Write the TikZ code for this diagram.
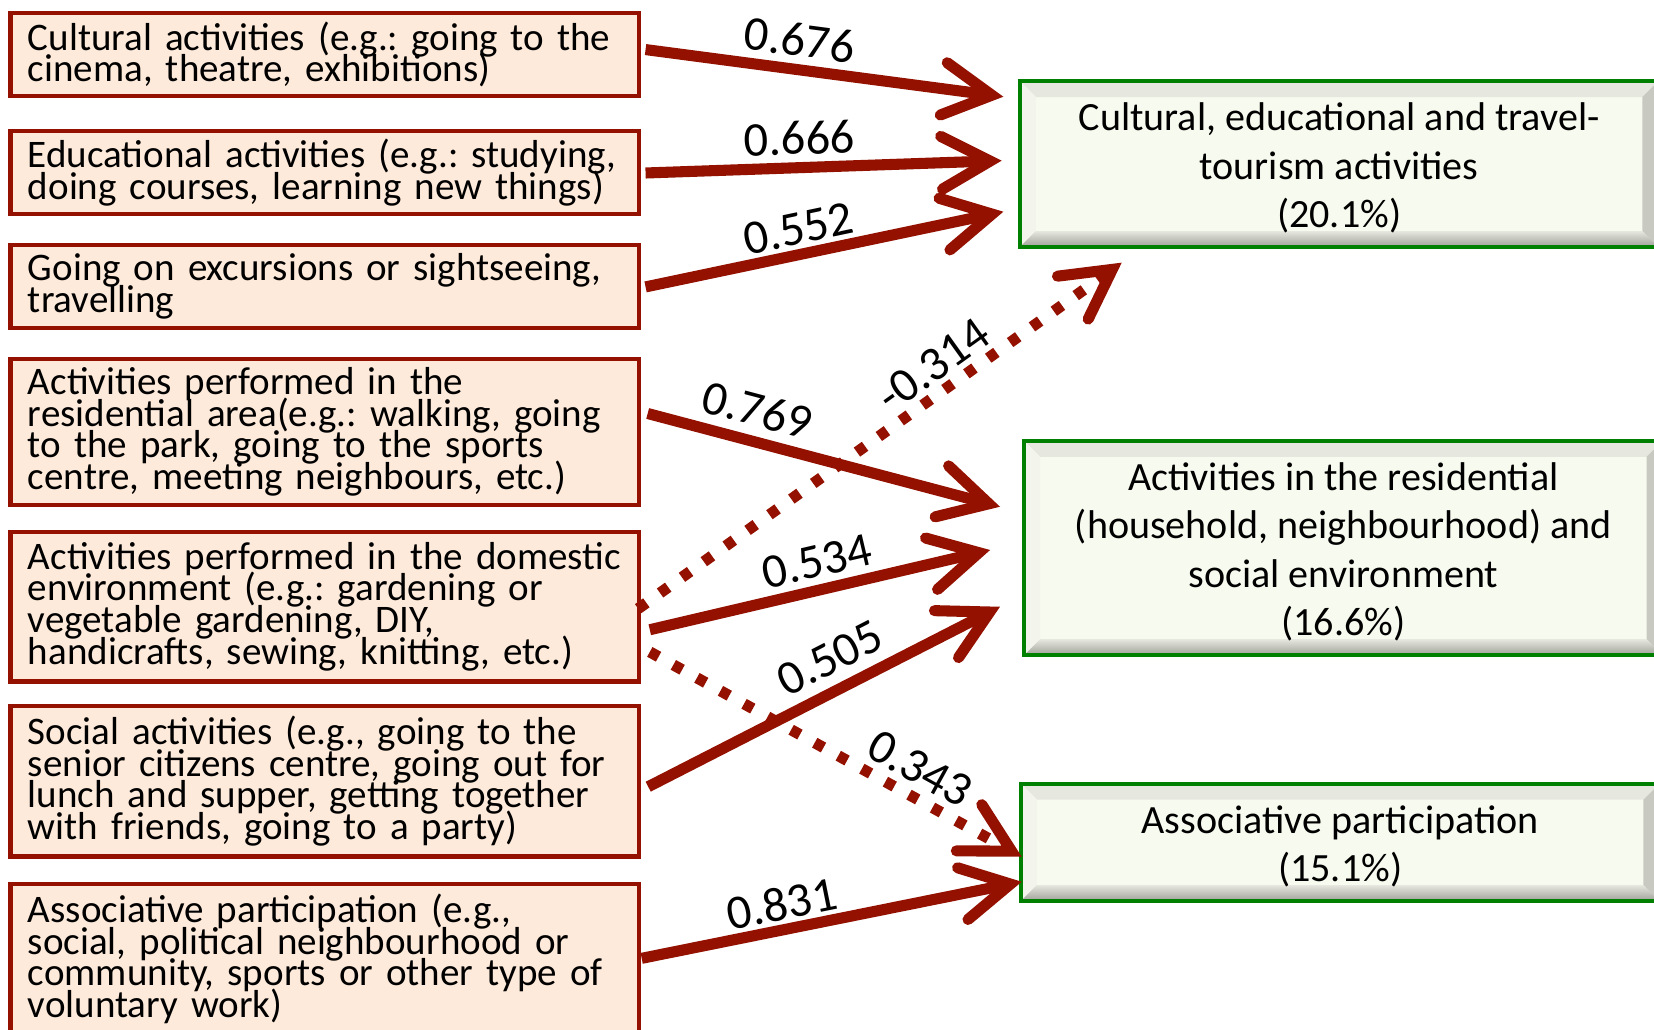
\documentclass[tikz,border=0pt]{standalone}
\usepackage{fontspec}
\setmainfont{Carlito}
\frenchspacing
\usetikzlibrary{arrows.meta,calc}

\definecolor{linkred}{RGB}{148,17,0}
\definecolor{srcfill}{RGB}{253,234,218}
\definecolor{facgreen}{RGB}{0,128,0}
\definecolor{facface}{RGB}{247,250,238}
\definecolor{bevleft}{RGB}{243,245,237}
\definecolor{bevtop}{RGB}{230,232,224}
\definecolor{bevright}{RGB}{200,202,194}
\definecolor{bevdark}{RGB}{160,162,154}

% tight leading for the activity boxes
\newcommand{\srcfont}{\fontsize{37}{30}\selectfont\lineskiplimit=-100pt\relax\lineskip=0pt\relax}
% centred block of lines, lowered inside its reported extents
\newcommand{\factortext}[1]{\raisebox{-5pt}[\height][\depth]{\begin{tabular}{@{}c@{}}#1\end{tabular}}}

\begin{document}
\begin{tikzpicture}[x=1pt,y=1pt,
  srcbox/.style={draw=linkred, line width=4pt, fill=srcfill, anchor=north west,
    outer sep=0pt, minimum width=596pt, text width=563pt, align=left,
    inner xsep=16.5pt, inner ysep=0pt, font=\srcfont},
  bevel/.style={path picture={
    \fill[bevtop] let \p1=(path picture bounding box.north west),
      \p2=(path picture bounding box.south east) in
      (\x1,\y1) -- (\x2,\y1) -- (\x2-15pt,\y1-15pt) -- (\x1+15pt,\y1-15pt) -- cycle;
    \fill[bevleft] let \p1=(path picture bounding box.north west),
      \p2=(path picture bounding box.south east) in
      (\x1,\y1) -- (\x1+15pt,\y1-15pt) -- (\x1+15pt,\y2+15pt) -- (\x1,\y2) -- cycle;
    \fill[bevright] let \p1=(path picture bounding box.north west),
      \p2=(path picture bounding box.south east) in
      (\x2,\y1) -- (\x2-15pt,\y1-15pt) -- (\x2-15pt,\y2+15pt) -- (\x2,\y2) -- cycle;
    \shade[top color=bevtop, bottom color=bevdark] let \p1=(path picture bounding box.north west),
      \p2=(path picture bounding box.south east) in
      (\x1,\y2) -- (\x2,\y2) -- (\x2-15pt,\y2+15pt) -- (\x1+15pt,\y2+15pt) -- cycle;
  }},
  facbox/.style={draw=facgreen, line width=4pt, fill=facface, anchor=north west,
    outer sep=0pt, minimum width=605pt, inner sep=0pt,
    font=\fontsize{38}{46}\selectfont, bevel},
  conn/.style={draw=linkred, line width=10.5pt, line cap=butt,
    -{Straight Barb[length=46pt,width=50pt,line cap=round,line join=miter]}},
  weak/.style={conn, dash pattern=on 9.5pt off 16pt},
  lbl/.style={sloped, anchor=south, inner xsep=0pt, text=black,
    font=\fontsize{46}{46}\selectfont},
]
\useasboundingbox (0,0) rectangle (1568,-976);
\fill[white] (0,0) rectangle (1568,-976);
\clip (0,0) rectangle (1568,-976);

% observed activities
\node[srcbox, minimum height=79pt] (c1) at (10,-12)
  {\mbox{Cultural activities (e.g.: going to the}\\\mbox{cinema, theatre, exhibitions)}};
\node[srcbox, minimum height=79pt] (c2) at (10,-124)
  {\mbox{Educational activities (e.g.: studying,}\\\mbox{doing courses, learning new things)}};
\node[srcbox, minimum height=79pt] (c3) at (10,-232)
  {\mbox{Going on excursions or sightseeing,}\\\mbox{travelling}};
\node[srcbox, minimum height=139pt] (c4) at (10,-340)
  {\mbox{Activities performed in the}\\\mbox{residential area(e.g.: walking, going}\\\mbox{to the park, going to the sports}\\\mbox{centre, meeting neighbours, etc.)}};
\node[srcbox, minimum height=142pt] (c5) at (10,-504)
  {\mbox{Activities performed in the domestic}\\\mbox{environment (e.g.: gardening or}\\\mbox{vegetable gardening, DIY,}\\\mbox{handicrafts, sewing, knitting, etc.)}};
\node[srcbox, minimum height=143pt] (c6) at (10,-669)
  {\mbox{Social activities (e.g., going to the}\\\mbox{senior citizens centre, going out for}\\\mbox{lunch and supper, getting together}\\\mbox{with friends, going to a party)}};
\node[srcbox, minimum height=142pt] (c7) at (10,-838)
  {\mbox{Associative participation (e.g.,}\\\mbox{social, political neighbourhood or}\\\mbox{community, sports or other type of}\\\mbox{voluntary work)}};

% factors
\node[facbox, minimum height=157pt] (f1) at (967,-77)
  {\factortext{Cultural, educational and travel-\\tourism activities\\(20.1\%)}};
\node[facbox, minimum height=203pt] (f2) at (971,-418)
  {\factortext{Activities in the residential\\(household, neighbourhood) and\\social environment\\(16.6\%)}};
\node[facbox, minimum height=111pt] (f3) at (968,-743)
  {\factortext{Associative participation\\(15.1\%)}};

% cross loadings (dotted)
\draw[weak] ([xshift=-1pt,yshift=-2pt]c5.east) --
  node[lbl, pos=0.642, inner ysep=4.5pt] {-0.314}
  ([xshift=96.4pt,yshift=-15pt]f1.south west);
\draw[weak] ([xshift=10pt,yshift=-43pt]c5.east) --
  node[lbl, pos=0.69, inner ysep=6.5pt] {0.343}
  ([xshift=0.6pt,yshift=-13.7pt]f3.west);

% main loadings
\draw[conn] ([xshift=6pt,yshift=4.5pt]c1.east) --
  node[lbl, pos=0.42, inner ysep=7pt] {0.676}
  ([xshift=-15.8pt,yshift=63.8pt]f1.west);
\draw[conn] ([xshift=6pt,yshift=-0.5pt]c2.east) --
  node[lbl, pos=0.435, inner ysep=7pt] {0.666}
  ([xshift=-17.4pt,yshift=3.2pt]f1.west);
\draw[conn] ([xshift=6pt,yshift=-0.5pt]c3.east) --
  node[lbl, pos=0.442, inner ysep=4pt] {0.552}
  ([xshift=-15.8pt,yshift=-45.2pt]f1.west);
\draw[conn] ([xshift=8pt,yshift=17.5pt]c4.east) --
  node[lbl, pos=0.289, inner ysep=9pt] {0.769}
  ([xshift=-23pt,yshift=39.1pt]f2.west);
\draw[conn] ([xshift=10pt,yshift=-22pt]c5.east) --
  node[lbl, pos=0.509, inner ysep=6.5pt] {0.534}
  ([xshift=-32.4pt,yshift=-1.9pt]f2.west);
\draw[conn] ([xshift=8.5pt,yshift=-5.3pt]c6.east) --
  node[lbl, pos=0.557, inner ysep=10pt] {0.505}
  ([xshift=-23pt,yshift=-55.7pt]f2.west);
\draw[conn] ([xshift=2.3pt,yshift=0.5pt]c7.east) --
  node[lbl, pos=0.382, inner ysep=3.5pt] {0.831}
  ([xshift=0.6pt,yshift=-37.4pt]f3.west);
\end{tikzpicture}
\end{document}
